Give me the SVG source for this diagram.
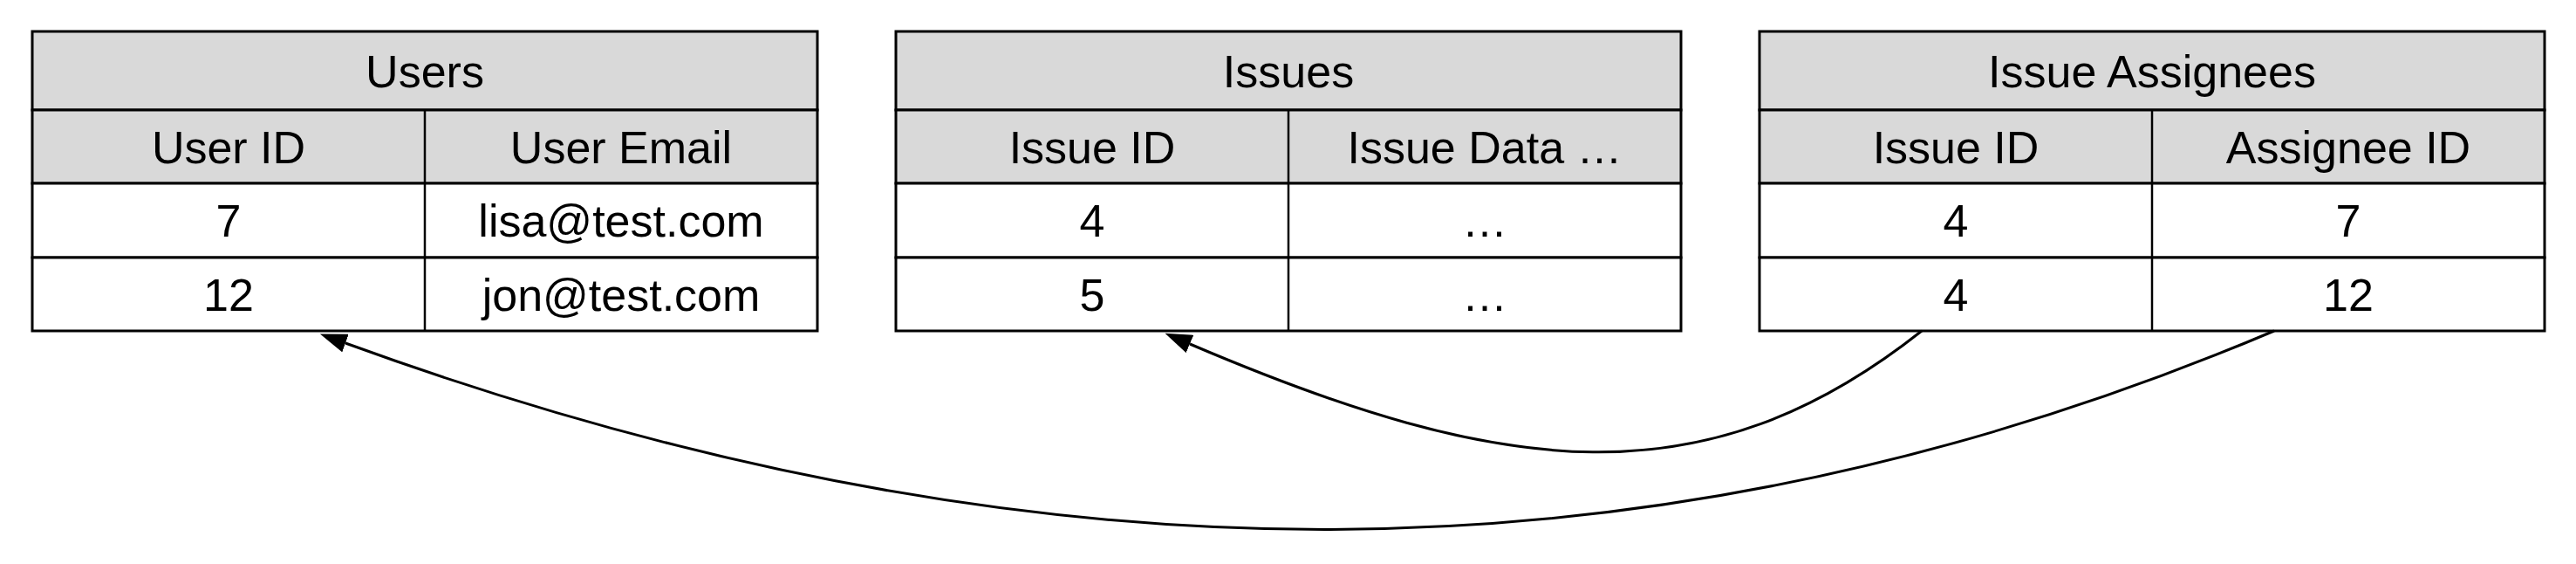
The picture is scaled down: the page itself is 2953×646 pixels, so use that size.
<svg xmlns="http://www.w3.org/2000/svg" width="2953" height="646" viewBox="0 0 2953 646">
<style>
.hd{fill:#d9d9d9;stroke:#000;stroke-width:3}
.cl{fill:#fff;stroke:#000;stroke-width:3}
.dv{stroke:#000;stroke-width:2.5}
text{font-family:"Liberation Sans",Arial,Helvetica,sans-serif;font-size:52px;fill:#000;text-anchor:middle}
.cn{fill:none;stroke:#000;stroke-width:3}
</style>
<defs>
<marker id="ah" viewBox="0 0 31 22" refX="0" refY="11" markerWidth="31" markerHeight="22" markerUnits="userSpaceOnUse" orient="auto">
<path d="M0,0 L31,11 L0,22 z" fill="#000"/>
</marker>
</defs>
<g id="users">
<rect class="hd" x="37" y="36" width="900" height="90"/>
<rect class="hd" x="37" y="126" width="900" height="84"/>
<rect class="cl" x="37" y="210" width="900" height="85"/>
<rect class="cl" x="37" y="295" width="900" height="84"/>
<line class="dv" x1="487" y1="126" x2="487" y2="379"/>
<text x="487" y="100">Users</text>
<text x="262" y="187">User ID</text>
<text x="712" y="187">User Email</text>
<text x="262" y="271">7</text>
<text x="712" y="271">lisa@test.com</text>
<text x="262" y="356">12</text>
<text x="712" y="356">jon@test.com</text>
</g>
<g id="issues">
<rect class="hd" x="1027" y="36" width="900" height="90"/>
<rect class="hd" x="1027" y="126" width="900" height="84"/>
<rect class="cl" x="1027" y="210" width="900" height="85"/>
<rect class="cl" x="1027" y="295" width="900" height="84"/>
<line class="dv" x1="1477" y1="126" x2="1477" y2="379"/>
<text x="1477" y="100">Issues</text>
<text x="1252" y="187">Issue ID</text>
<text x="1702" y="187">Issue Data …</text>
<text x="1252" y="271">4</text>
<text x="1702" y="271">…</text>
<text x="1252" y="356">5</text>
<text x="1702" y="356">…</text>
</g>
<g id="issue-assignees">
<rect class="hd" x="2017" y="36" width="900" height="90"/>
<rect class="hd" x="2017" y="126" width="900" height="84"/>
<rect class="cl" x="2017" y="210" width="900" height="85"/>
<rect class="cl" x="2017" y="295" width="900" height="84"/>
<line class="dv" x1="2467" y1="126" x2="2467" y2="379"/>
<text x="2467" y="100">Issue Assignees</text>
<text x="2242" y="187">Issue ID</text>
<text x="2692" y="187">Assignee ID</text>
<text x="2242" y="271">4</text>
<text x="2692" y="271">7</text>
<text x="2242" y="356">4</text>
<text x="2692" y="356">12</text>
</g>
<g id="connectors">
<path class="cn" d="M2203,379 C1955,575 1725,548 1364,394" marker-end="url(#ah)"/>
<path class="cn" d="M2607,379 C1889.8,683 1176.1,676.8 396,393" marker-end="url(#ah)"/>
</g>
</svg>
